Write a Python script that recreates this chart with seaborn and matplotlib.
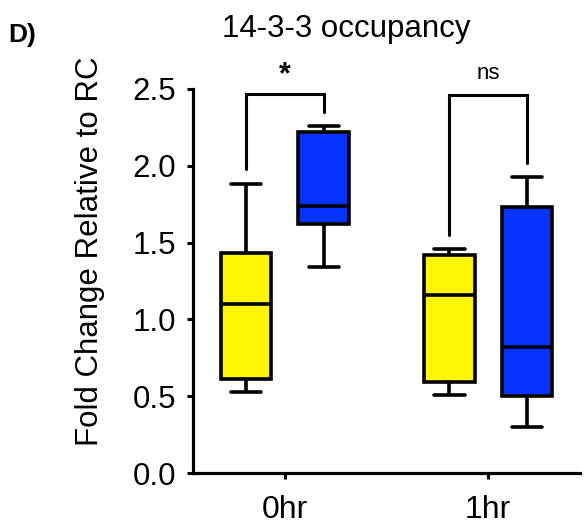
import matplotlib
matplotlib.use("Agg")
import matplotlib.pyplot as plt
import numpy as np
import pandas as pd
import seaborn as sns

# Time points and treatment groups
times = ["0hr", "1hr"]
groups = ["Group A", "Group B"]
group_colors = ["#FFF500", "#0433FF"]

# Per-sample fold change values (min, lower quartile, median, upper quartile, max)
group_a_0hr = [0.53, 0.61, 1.10, 1.43, 1.88]
group_b_0hr = [1.34, 1.62, 1.74, 2.22, 2.26]
group_a_1hr = [0.51, 0.59, 1.16, 1.42, 1.46]
group_b_1hr = [0.30, 0.50, 0.82, 1.73, 1.93]

# Significance brackets per time point
sig_labels = ["*", "ns"]
bracket_top = [2.465, 2.46]
bracket_left_end = [1.98, 1.55]
bracket_right_end = [2.35, 2.02]

records = []
for t, (a_vals, b_vals) in zip(times, [(group_a_0hr, group_b_0hr), (group_a_1hr, group_b_1hr)]):
    for v in a_vals:
        records.append({"time": t, "group": groups[0], "value": v})
    for v in b_vals:
        records.append({"time": t, "group": groups[1], "value": v})
df = pd.DataFrame(records)

sns.set_style("ticks")
plt.rcParams["font.family"] = ["Liberation Sans", "DejaVu Sans"]
plt.rcParams["text.color"] = "black"
plt.rcParams["axes.labelcolor"] = "black"
plt.rcParams["xtick.color"] = "black"
plt.rcParams["ytick.color"] = "black"

fig = plt.figure(figsize=(5.84, 5.31), dpi=100)
ax = fig.add_axes([0.3305, 0.1092, 0.6627, 0.7232])

box_width = 0.76
gap = 0.35
lw = 2.6
sns.boxplot(
    data=df, x="time", y="value", hue="group",
    order=times, hue_order=groups, palette=group_colors,
    width=box_width, gap=gap, whis=(0, 100),
    linewidth=lw, linecolor="black", saturation=1,
    legend=False, ax=ax,
)

# Widen the whisker caps a little
single_box = box_width / 2 * (1 - gap)
for line in ax.lines:
    xd = np.asarray(line.get_xdata(), dtype=float)
    yd = np.asarray(line.get_ydata(), dtype=float)
    if len(xd) == 2 and np.isclose(yd[0], yd[1]):
        span = abs(xd[1] - xd[0])
        if np.isclose(span, 0.5 * single_box, rtol=0.05):
            c = xd.mean()
            half = 0.6 * single_box / 2
            line.set_xdata([c - half, c + half])

ax.set_ylim(0, 2.5)
ax.set_xlim(-0.453, 1.453)
ax.set_yticks([0.0, 0.5, 1.0, 1.5, 2.0, 2.5])
ax.set_yticklabels(["0.0", "0.5", "1.0", "1.5", "2.0", "2.5"])
ax.set_xlabel("")
ax.set_ylabel("")
for side in ["top", "right"]:
    ax.spines[side].set_visible(False)
for side in ["left", "bottom"]:
    ax.spines[side].set_linewidth(2.3)
    ax.spines[side].set_color("black")
ax.tick_params(axis="y", length=4, width=2.2, labelsize=22.5, pad=8, colors="black")
ax.tick_params(axis="x", length=4, width=2.2, labelsize=23, pad=12, colors="black")

# Significance brackets between the two groups at each time point
offset = box_width / 4
for i, lab in enumerate(sig_labels):
    xl, xr = i - offset, i + offset
    ax.plot([xl, xl, xr, xr],
            [bracket_left_end[i], bracket_top[i], bracket_top[i], bracket_right_end[i]],
            color="black", lw=2.2, clip_on=False, solid_joinstyle="miter")
    if lab == "*":
        ax.text(i, bracket_top[i] + 0.03, lab, ha="center", va="bottom",
                fontsize=22, fontweight="bold", clip_on=False)
    else:
        ax.text(i, bracket_top[i] + 0.07, lab, ha="center", va="bottom",
                fontsize=16, clip_on=False)

fig.text(90 / 584, 1 - 251 / 531, "Fold Change Relative to RC", rotation=90,
         ha="center", va="center", fontsize=22.5)
fig.text(346.5 / 584, 1 - 37 / 531, "14-3-3 occupancy", ha="center",
         va="baseline", fontsize=22.5)
fig.text(8 / 584, 1 - 42 / 531, "D)", ha="left", va="baseline",
         fontsize=19, fontweight="bold")

fig.savefig("out.png", dpi=100)
